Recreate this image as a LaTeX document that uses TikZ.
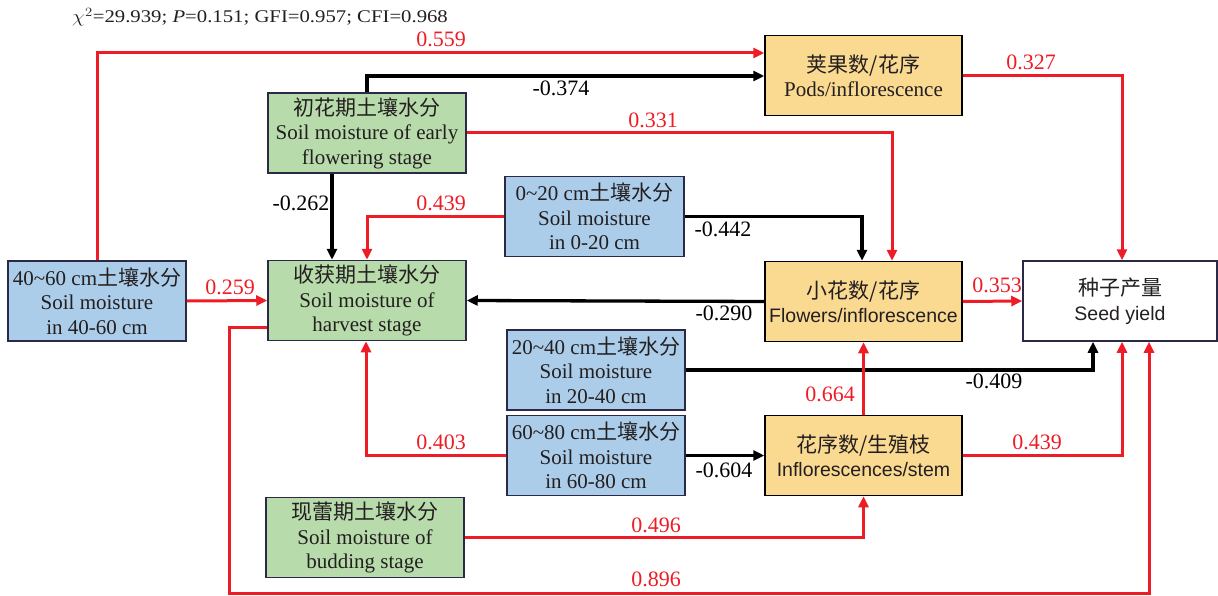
\documentclass[tikz,border=0pt]{standalone}
\usepackage{fontspec}
\setmainfont{Liberation Serif}
\setsansfont{Liberation Sans}
\newfontfamily\cjk{Noto Sans CJK SC}
\usetikzlibrary{arrows.meta}
\definecolor{gfill}{HTML}{B7DBAA}
\definecolor{bfill}{HTML}{ABCDE9}
\definecolor{ofill}{HTML}{FAD991}
\definecolor{navy}{HTML}{2A2A48}
\definecolor{redl}{HTML}{EE1C25}
\definecolor{txt}{HTML}{231F20}
\newcommand{\bxfont}{\fontsize{21}{24.5}\selectfont}
\newcommand{\lbfont}{\fontsize{22}{24}\selectfont}
\newcommand{\sfbx}[1]{{\sffamily\fontsize{19.5}{24.5}\selectfont #1}}
\begin{document}
\begin{tikzpicture}[x=1pt,y=-1pt,
 box/.style={draw=navy,line width=1.5pt,inner sep=0pt,align=center,font=\bxfont,text=txt,minimum height=80pt},
 gbox/.style={box,fill=gfill,minimum width=198pt},
 bbox/.style={box,fill=bfill,minimum width=178pt},
 obox/.style={box,fill=ofill,draw=black,minimum width=197pt},
 rl/.style={draw=redl,line width=3pt,-{Triangle[length=11pt,width=10pt]}},
 kl/.style={draw=black,line width=3.3pt,-{Triangle[length=11pt,width=10pt]}},
 rlab/.style={text=redl,font=\lbfont,inner sep=0pt},
 klab/.style={text=black,font=\lbfont,inner sep=0pt}]
\useasboundingbox (0,0) rectangle (1218,596);

% boxes
\node[obox] (pods) at (863.5,75.5) {{\cjk 荚果数/花序}\\Pods/inflorescence};
\node[gbox] (early) at (367,133) {{\cjk 初花期土壤水分}\\Soil moisture of early\\flowering stage};
\node[bbox,minimum width=179pt] (s020) at (594.5,216.5) {0\textasciitilde20 cm{\cjk 土壤水分}\\Soil moisture\\in 0-20 cm};
\node[bbox] (s4060) at (97,301) {40\textasciitilde60 cm{\cjk 土壤水分}\\Soil moisture\\in 40-60 cm};
\node[gbox] (harv) at (367,300.5) {{\cjk 收获期土壤水分}\\Soil moisture of\\harvest stage};
\node[obox] (flow) at (863.5,301.5) {{\cjk 小花数/花序}\\\sfbx{Flowers/inflorescence}};
\node[box,fill=white,minimum width=194pt] (seed) at (1120,301) {{\cjk 种子产量}\\\sfbx{Seed yield}};
\node[bbox] (s2040) at (596,370) {20\textasciitilde40 cm{\cjk 土壤水分}\\Soil moisture\\in 20-40 cm};
\node[bbox] (s6080) at (596,455.5) {60\textasciitilde80 cm{\cjk 土壤水分}\\Soil moisture\\in 60-80 cm};
\node[obox] (infl) at (863.5,455.5) {{\cjk 花序数/生殖枝}\\\sfbx{Inflorescences/stem}};
\node[gbox] (bud) at (365,537.5) {{\cjk 现蕾期土壤水分}\\Soil moisture of\\budding stage};

% connectors
\coordinate (c559) at (97,53);
\draw[rl] (s4060.north) -- (c559) -- (pods.west |- c559);
\coordinate (c374) at (367,76);
\draw[kl] (early.north) -- (c374) -- (pods.west |- c374);
\coordinate (c327) at (1122,75.5);
\draw[rl] (pods.east) -- (c327) -- (seed.north -| c327);
\coordinate (c331) at (892,133);
\draw[rl] (early.east) -- (c331) -- (flow.north -| c331);
\coordinate (c262) at (332,0);
\draw[kl] (early.south -| c262) -- (harv.north -| c262);
\coordinate (c439) at (367,216.5);
\draw[rl] (s020.west) -- (c439) -- (harv.north -| c439);
\coordinate (c442) at (862,216.5);
\draw[kl] (s020.east) -- (c442) -- (flow.north -| c442);
\draw[rl] (s4060.east) -- (harv.west);
\draw[kl] (flow.west) -- (harv.east);
\draw[rl] (flow.east) -- (seed.west);
\coordinate (a896) at (0,327);
\coordinate (b896) at (229,593);
\coordinate (d896) at (1149,0);
\draw[rl] (harv.west |- a896) -- (b896 |- a896) -- (b896) -- (d896 |- b896) -- (seed.south -| d896);
\coordinate (c409) at (1093,370);
\draw[kl] (s2040.east) -- (c409) -- (seed.south -| c409);
\draw[rl] (infl.north) -- (flow.south);
\coordinate (c439b) at (1122,455.5);
\draw[rl] (infl.east) -- (c439b) -- (seed.south -| c439b);
\coordinate (c403) at (366,455.5);
\draw[rl] (s6080.west) -- (c403) -- (harv.south -| c403);
\draw[kl] (s6080.east) -- (infl.west);
\coordinate (c496) at (863.5,537.5);
\draw[rl] (bud.east) -- (c496) -- (infl.south -| c496);

% labels
\node[inner sep=0pt,text=txt] (chi) at (260,17) {\scalebox{1.22}[1.05]{\fontsize{17}{20}\selectfont $\chi^{2}$=29.939; \textit{P}=0.151; GFI=0.957; CFI=0.968}};
\node[rlab] (l559) at (441,39) {0.559};
\node[klab] (l374) at (561,88) {-0.374};
\node[rlab] (l331) at (653,120) {0.331};
\node[rlab] (l327) at (1031,62) {0.327};
\node[klab] (l262) at (301,203) {-0.262};
\node[rlab] (l439) at (441,203) {0.439};
\node[klab] (l442) at (723,229) {-0.442};
\node[rlab] (l259) at (230,287) {0.259};
\node[klab] (l290) at (724,313) {-0.290};
\node[rlab] (l353) at (997,285) {0.353};
\node[rlab] (l664) at (830,394) {0.664};
\node[klab] (l409) at (994,381) {-0.409};
\node[rlab] (l439b) at (1037,442) {0.439};
\node[rlab] (l403) at (441,442) {0.403};
\node[klab] (l604) at (724,470) {-0.604};
\node[rlab] (l496) at (656,525) {0.496};
\node[rlab] (l896) at (656,579) {0.896};
\end{tikzpicture}
\end{document}
